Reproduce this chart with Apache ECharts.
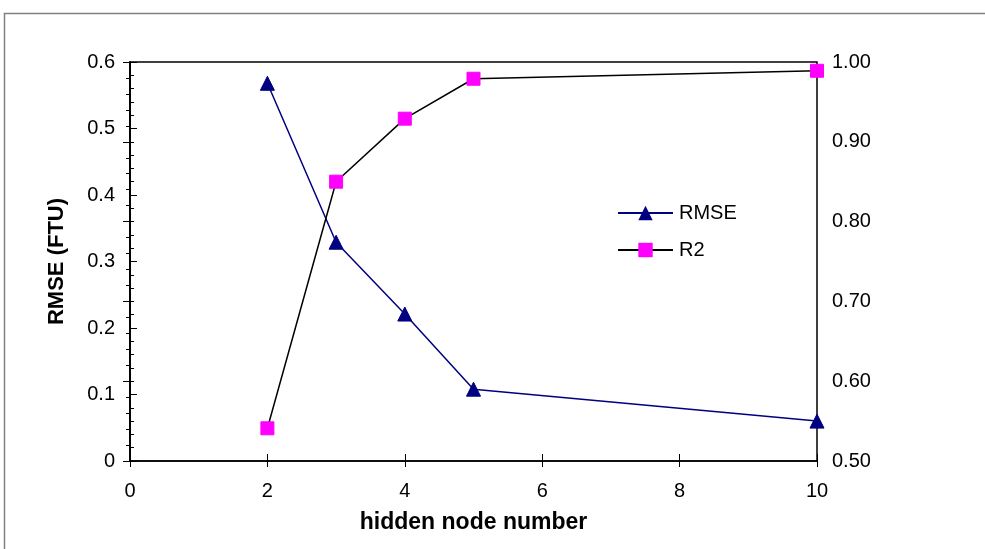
<!DOCTYPE html>
<html><head><meta charset="utf-8">
<script src="https://cdn.jsdelivr.net/npm/echarts@6/dist/echarts.min.js"></script>
<style>html,body{margin:0;padding:0;background:#fff}#c{width:985px;height:549px}</style>
</head><body><div id="c"></div>
<script>
const hiddenNodes = [2, 3, 4, 5, 10];
const rmse = [0.568, 0.329, 0.221, 0.108, 0.060];
const r2 = [0.541, 0.850, 0.929, 0.979, 0.989];
const xTicks = [0, 2, 4, 6, 8, 10];
const leftTicks = [0, 0.1, 0.2, 0.3, 0.4, 0.5, 0.6];
const rightTicks = [0.50, 0.60, 0.70, 0.80, 0.90, 1.00];

const chart = echarts.init(document.getElementById('c'), null, {renderer: 'canvas'});
const font = 'Liberation Sans, Arial, sans-serif';
const xBase = {
  type: 'value', min: xTicks[0], max: xTicks[xTicks.length - 1], interval: 2, position: 'bottom',
  splitLine: {show: false}
};
chart.setOption({
  animation: false,
  backgroundColor: '#fff',
  graphic: [{type: 'rect', shape: {x: 4.5, y: 13.5, width: 1000, height: 600},
    style: {fill: 'none', stroke: '#808080', lineWidth: 1.5}, silent: true}],
  grid: {left: 130, right: 168, top: 62, bottom: 88, show: true, borderColor: '#000', borderWidth: 1.5},
  legend: {
    left: 612, top: 198, orient: 'vertical', itemGap: 17, itemWidth: 55, itemHeight: 18,
    textStyle: {fontFamily: font, fontSize: 20, color: '#000', padding: [0, 0, 0, 1]},
    data: ['RMSE', 'R2']
  },
  xAxis: [Object.assign({}, xBase, {
    name: 'hidden node number', nameLocation: 'middle', nameGap: 50,
    nameTextStyle: {fontFamily: font, fontSize: 23, fontWeight: 'bold', color: '#000'},
    axisLine: {show: true, lineStyle: {color: '#000', width: 1.5}},
    axisTick: {show: true, length: 6, lineStyle: {color: '#000'}},
    axisLabel: {fontFamily: font, fontSize: 20, color: '#000', margin: 20}
  }), Object.assign({}, xBase, {
    axisLine: {show: false},
    axisTick: {show: true, inside: true, length: 7, lineStyle: {color: '#000'}},
    axisLabel: {show: false}
  })],
  yAxis: [{
    type: 'value', min: leftTicks[0], max: leftTicks[leftTicks.length - 1], interval: 0.1,
    name: 'RMSE (FTU)', nameLocation: 'middle', nameGap: 62, nameRotate: 90,
    nameTextStyle: {fontFamily: font, fontSize: 22, fontWeight: 'bold', color: '#000'},
    axisLine: {show: true, lineStyle: {color: '#000', width: 1.5}},
    axisTick: {show: true, inside: true, length: 7, lineStyle: {color: '#000'}},
    minorTick: {show: true, splitNumber: 5, length: 4, lineStyle: {color: '#000'}},
    axisLabel: {fontFamily: font, fontSize: 20, color: '#000', margin: 15,
      formatter: v => String(Math.round(v * 10) / 10)},
    splitLine: {show: false}
  }, {
    type: 'value', position: 'right', min: rightTicks[0], max: rightTicks[rightTicks.length - 1], interval: 0.1,
    axisLine: {show: true, lineStyle: {color: '#000', width: 1.5}},
    axisTick: {show: true, inside: true, length: 7, lineStyle: {color: '#000'}},
    minorTick: {show: true, splitNumber: 5, length: 4, lineStyle: {color: '#000'}},
    axisLabel: {fontFamily: font, fontSize: 20, color: '#000', margin: 15,
      formatter: v => v.toFixed(2)},
    splitLine: {show: false}
  }],
  series: [{
    name: 'RMSE', type: 'line', yAxisIndex: 0,
    data: hiddenNodes.map((x, i) => [x, rmse[i]]),
    symbol: 'triangle', symbolSize: 14,
    lineStyle: {color: '#000080', width: 1.5},
    itemStyle: {color: '#000080', borderColor: '#000080'}
  }, {
    name: 'R2', type: 'line', yAxisIndex: 1,
    data: hiddenNodes.map((x, i) => [x, r2[i]]),
    symbol: 'rect', symbolSize: 13,
    lineStyle: {color: '#000', width: 1.5},
    itemStyle: {color: '#FF00FF', borderColor: '#FF00FF'}
  }]
});
</script></body></html>
